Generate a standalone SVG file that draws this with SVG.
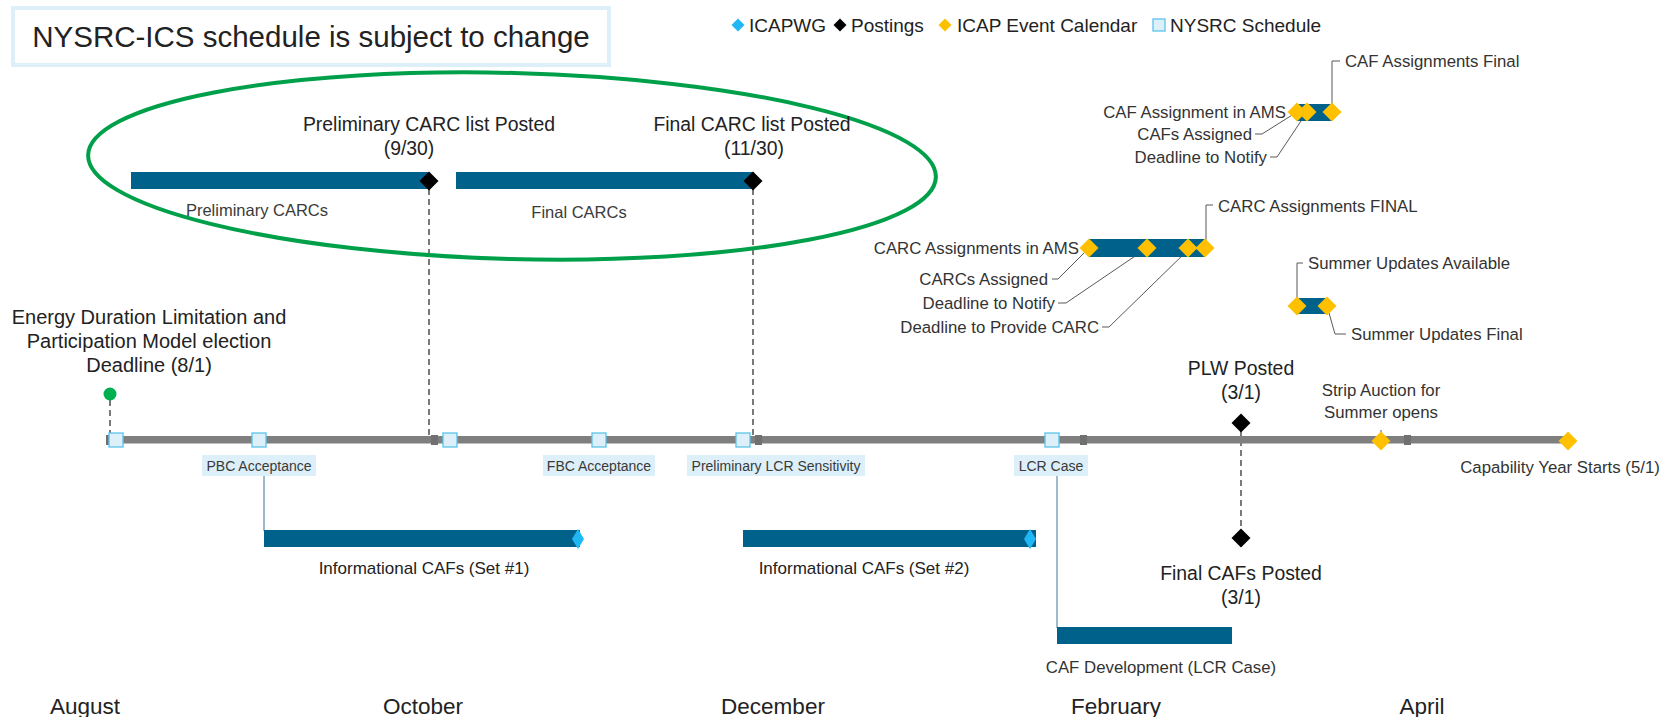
<svg xmlns="http://www.w3.org/2000/svg" width="1669" height="717" viewBox="0 0 1669 717">
<style>
text{font-family:"Liberation Sans",Arial,sans-serif;fill:#222}
.lg{font-size:19px}
.big{font-size:19.4px}
.sm{font-size:14px;fill:#3a3a3a}
.lb{font-size:16.5px;fill:#3a3a3a}
.md{font-size:16.8px;fill:#333}
.mo{font-size:22.5px}
.bar{fill:#00618A}
.yel{fill:#FFC000}
.blk{fill:#000}
.cyn{fill:#1FB8F5}
.sq{fill:#DDEFF8;stroke:#5BC3EC;stroke-width:1.3}
.lbx{fill:#DDEFF8}
.ld{fill:none;stroke:#595959;stroke-width:1}
.dash{fill:none;stroke:#333;stroke-width:1.3;stroke-dasharray:6,4}
.vl{fill:none;stroke:#7FA3B8;stroke-width:1.5}
.tk{fill:#707070}
</style>
<defs>
<path id="dm" d="M0,-9.5 L9.5,0 0,9.5 -9.5,0Z"/>
<path id="dms" d="M0,-6.5 L6.5,0 0,6.5 -6.5,0Z"/>
<path id="dmt" d="M0,-10 L6,0 0,10 -6,0Z"/>
<rect id="sq" x="-7" y="-7" width="14" height="14"/>
</defs>
<rect width="1669" height="717" fill="#fff"/>

<g id="title">
<rect x="13" y="8" width="596" height="57" fill="#fff" stroke="#DDEFF8" stroke-width="4"/>
<text x="311" y="47" text-anchor="middle" font-size="29.5">NYSRC-ICS schedule is subject to change</text>
</g>

<g id="legend">
<use href="#dms" x="738" y="25" class="cyn"/>
<text x="749" y="32" class="lg">ICAPWG</text>
<use href="#dms" x="840" y="25" class="blk"/>
<text x="851" y="32" class="lg">Postings</text>
<use href="#dms" x="945" y="25" class="yel"/>
<text x="957" y="32" class="lg">ICAP Event Calendar</text>
<rect x="1153" y="19" width="12" height="12" class="sq"/>
<text x="1170" y="32" class="lg">NYSRC Schedule</text>
</g>

<g id="connectors">
<line x1="429" y1="189" x2="429" y2="440" class="dash"/>
<line x1="753" y1="189" x2="753" y2="440" class="dash"/>
<line x1="110" y1="400" x2="110" y2="436" class="dash"/>
<line x1="1241" y1="430" x2="1241" y2="530" class="dash"/>
<polyline points="264,476 264,531" class="vl"/>
<polyline points="1057,476 1057,628" class="vl"/>
<line x1="1381" y1="430" x2="1381" y2="441" class="ld"/>
<polyline points="1052,279 1058,279 1089,248" class="ld"/>
<polyline points="1058,303 1066,303 1147,248" class="ld"/>
<polyline points="1102,327 1109,327 1188,250" class="ld"/>
<polyline points="1213,205 1206,205 1206,248" class="ld"/>
<polyline points="1255,134 1262,134 1297,112" class="ld"/>
<polyline points="1270,157 1277,157 1307,112" class="ld"/>
<polyline points="1340,61 1332,61 1332,112" class="ld"/>
<polyline points="1303,263 1297,263 1297,306" class="ld"/>
<polyline points="1327,306 1335,334 1346,334" class="ld"/>
</g>

<g id="ellipse">
<ellipse cx="512" cy="166" rx="424" ry="93" transform="rotate(1.5 512 166)" fill="none" stroke="#00A04A" stroke-width="4"/>
</g>

<g id="prelim-carcs">
<rect x="131" y="172" width="298" height="17" class="bar"/>
<use href="#dm" x="429" y="181" class="blk"/>
<text x="257" y="216" text-anchor="middle" class="lb">Preliminary CARCs</text>
<text x="429" y="131" text-anchor="middle" class="big">Preliminary CARC list Posted</text>
<text x="409" y="155" text-anchor="middle" class="big">(9/30)</text>
</g>

<g id="final-carcs">
<rect x="456" y="172" width="297" height="17" class="bar"/>
<use href="#dm" x="753" y="181" class="blk"/>
<text x="579" y="218" text-anchor="middle" class="lb">Final CARCs</text>
<text x="752" y="131" text-anchor="middle" class="big">Final CARC list Posted</text>
<text x="754" y="155" text-anchor="middle" class="big">(11/30)</text>
</g>

<g id="caf-ams">
<rect x="1297" y="104" width="35" height="17" class="bar"/>
<use href="#dm" x="1297" y="112" class="yel"/>
<use href="#dm" x="1307" y="112" class="yel"/>
<use href="#dm" x="1332" y="112" class="yel"/>
<text x="1286" y="118" text-anchor="end" class="md">CAF Assignment in AMS</text>
<text x="1252" y="140" text-anchor="end" class="md">CAFs Assigned</text>
<text x="1267" y="163" text-anchor="end" class="md">Deadline to Notify</text>
<text x="1345" y="67" class="md">CAF Assignments Final</text>
</g>

<g id="carc-ams">
<rect x="1089" y="239" width="116" height="18" class="bar"/>
<use href="#dm" x="1089" y="248" class="yel"/>
<use href="#dm" x="1147" y="248" class="yel"/>
<use href="#dm" x="1188" y="248" class="yel"/>
<use href="#dm" x="1205" y="248" class="yel"/>
<text x="1079" y="254" text-anchor="end" class="md">CARC Assignments in AMS</text>
<text x="1048" y="285" text-anchor="end" class="md">CARCs Assigned</text>
<text x="1055" y="309" text-anchor="end" class="md">Deadline to Notify</text>
<text x="1099" y="333" text-anchor="end" class="md">Deadline to Provide CARC</text>
<text x="1218" y="212" class="md">CARC  Assignments FINAL</text>
</g>

<g id="summer-updates">
<rect x="1297" y="298" width="30" height="16" class="bar"/>
<use href="#dm" x="1297" y="306" class="yel"/>
<use href="#dm" x="1327" y="306" class="yel"/>
<text x="1308" y="269" class="md">Summer Updates Available</text>
<text x="1351" y="340" class="md">Summer Updates Final</text>
</g>

<g id="edl">
<circle cx="110" cy="394" r="6.5" fill="#00B050"/>
<text x="149" y="324" text-anchor="middle" font-size="20">Energy Duration Limitation and</text>
<text x="149" y="348" text-anchor="middle" font-size="20">Participation Model election</text>
<text x="149" y="372" text-anchor="middle" font-size="20">Deadline (8/1)</text>
</g>

<g id="timeline">
<rect x="107" y="436" width="1461" height="7.5" fill="#7F7F7F"/>
<rect x="106" y="435" width="6" height="10" class="tk"/>
<rect x="431" y="435" width="7" height="10" class="tk"/>
<rect x="755" y="435" width="7" height="10" class="tk"/>
<rect x="1080" y="435" width="7" height="10" class="tk"/>
<rect x="1404" y="435" width="7" height="10" class="tk"/>
</g>

<g id="nysrc-squares">
<use href="#sq" x="116" y="440" class="sq"/>
<use href="#sq" x="259" y="440" class="sq"/>
<use href="#sq" x="450" y="440" class="sq"/>
<use href="#sq" x="599" y="440" class="sq"/>
<use href="#sq" x="743" y="440" class="sq"/>
<use href="#sq" x="1052" y="440" class="sq"/>
</g>

<g id="pbc">
<rect x="202" y="455" width="114" height="21" class="lbx"/>
<text x="259" y="471" text-anchor="middle" class="sm">PBC Acceptance</text>
</g>
<g id="fbc">
<rect x="543" y="455" width="112" height="21" class="lbx"/>
<text x="599" y="471" text-anchor="middle" class="sm">FBC Acceptance</text>
</g>
<g id="plcr">
<rect x="687" y="455" width="178" height="21" class="lbx"/>
<text x="776" y="471" text-anchor="middle" class="sm">Preliminary LCR Sensitivity</text>
</g>
<g id="lcr">
<rect x="1014" y="455" width="74" height="21" class="lbx"/>
<text x="1051" y="471" text-anchor="middle" class="sm">LCR Case</text>
</g>

<g id="info-caf-1">
<rect x="264" y="530" width="316" height="17" class="bar"/>
<use href="#dmt" x="578" y="539" class="cyn"/>
<text x="424" y="574" text-anchor="middle" font-size="17" fill="#3a3a3a">Informational CAFs (Set #1)</text>
</g>

<g id="info-caf-2">
<rect x="743" y="530" width="293" height="17" class="bar"/>
<use href="#dmt" x="1030" y="539" class="cyn"/>
<text x="864" y="574" text-anchor="middle" font-size="17" fill="#3a3a3a">Informational CAFs (Set #2)</text>
</g>

<g id="caf-dev">
<rect x="1057" y="627" width="175" height="17" class="bar"/>
<text x="1161" y="673" text-anchor="middle" class="md">CAF Development (LCR Case)</text>
</g>

<g id="plw">
<use href="#dm" x="1241" y="423" class="blk"/>
<text x="1241" y="375" text-anchor="middle" class="big">PLW Posted</text>
<text x="1241" y="399" text-anchor="middle" class="big">(3/1)</text>
</g>

<g id="final-cafs">
<use href="#dm" x="1241" y="538" class="blk"/>
<text x="1241" y="580" text-anchor="middle" class="big">Final CAFs Posted</text>
<text x="1241" y="604" text-anchor="middle" class="big">(3/1)</text>
</g>

<g id="strip-auction">
<use href="#dm" x="1381" y="441" class="yel"/>
<text x="1381" y="396" text-anchor="middle" class="md">Strip Auction for</text>
<text x="1381" y="418" text-anchor="middle" class="md">Summer opens</text>
</g>

<g id="cap-year">
<use href="#dm" x="1568" y="441" class="yel"/>
<text x="1560" y="473" text-anchor="middle" class="md">Capability Year Starts (5/1)</text>
</g>

<g id="months">
<text x="85" y="714" text-anchor="middle" class="mo">August</text>
<text x="423" y="714" text-anchor="middle" class="mo">October</text>
<text x="773" y="714" text-anchor="middle" class="mo">December</text>
<text x="1116" y="714" text-anchor="middle" class="mo">February</text>
<text x="1422" y="714" text-anchor="middle" class="mo">April</text>
</g>
</svg>
